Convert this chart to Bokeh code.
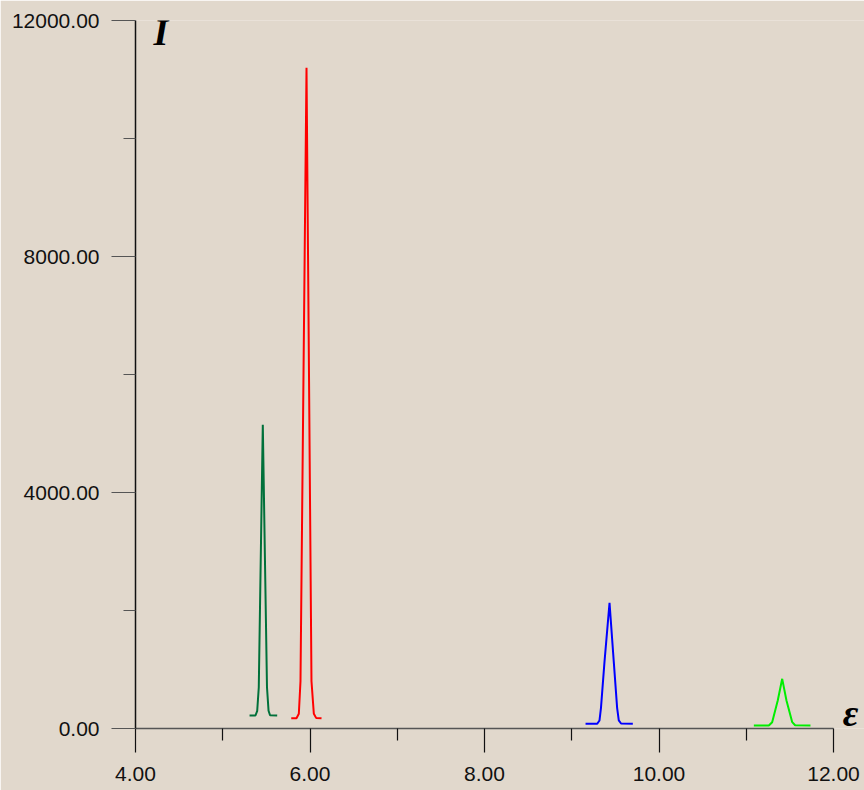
from bokeh.plotting import figure
from bokeh.models import FixedTicker, NumeralTickFormatter, Label, Range1d
from bokeh.embed import file_html
from bokeh.resources import INLINE

# ---- data ----
green_x = [5.307, 5.375, 5.395, 5.413, 5.459, 5.507, 5.525, 5.542, 5.624]
green_y = [220, 220, 300, 700, 5150, 700, 300, 225, 220]

red_x = [5.785, 5.845, 5.872, 5.891, 5.960, 6.017, 6.044, 6.070, 6.132]
red_y = [175, 175, 250, 800, 11200, 800, 250, 180, 175]

blue_x = [9.158, 9.292, 9.318, 9.335, 9.375, 9.433, 9.482, 9.520, 9.539, 9.565, 9.700]
blue_y = [80, 80, 136, 350, 1124, 2130, 1124, 350, 136, 85, 80]

lime_x = [11.087, 11.259, 11.297, 11.361, 11.412, 11.461, 11.527, 11.560, 11.736]
lime_y = [50, 50, 107, 475, 842, 475, 107, 55, 50]

x_ticks = [4, 6, 8, 10, 12]
x_minor = [5, 7, 9, 11]
y_ticks = [0, 4000, 8000, 12000]
y_minor = [2000, 6000, 10000]

BG = "#e1d8cc"

p = figure(frame_width=729, frame_height=708,
           x_range=Range1d(4, 12.3553), y_range=Range1d(0, 12000),
           output_backend="svg", toolbar_location=None,
           min_border_left=135, min_border_right=0,
           min_border_top=20, min_border_bottom=62)
p.background_fill_color = BG
p.border_fill_color = BG
p.outline_line_color = None
p.xgrid.visible = False
p.ygrid.visible = False

p.line(green_x, green_y, line_color="#00703a", line_width=2)
p.line(red_x, red_y, line_color="#ff0000", line_width=2)
p.line(blue_x, blue_y, line_color="#0000ff", line_width=2)
p.line(lime_x, lime_y, line_color="#00ee00", line_width=2)

for ax, ticks, minor in ((p.xaxis[0], x_ticks, x_minor), (p.yaxis[0], y_ticks, y_minor)):
    ax.ticker = FixedTicker(ticks=ticks, minor_ticks=minor)
    ax.formatter = NumeralTickFormatter(format="0.00")
    ax.major_tick_in = 0
    ax.minor_tick_in = 0
    ax.major_tick_out = 24
    ax.minor_tick_out = 12
    ax.major_label_text_font = "Liberation Sans"
    ax.major_label_text_font_size = "21px"
    ax.major_label_text_color = "#111111"

p.xaxis.bounds = (4, 12)
p.xaxis.axis_line_color = "#555555"
p.xaxis.axis_line_width = 1.5
p.xaxis.major_tick_line_color = "#111111"
p.xaxis.minor_tick_line_color = "#111111"
p.xaxis.major_tick_line_width = 1.2
p.xaxis.minor_tick_line_width = 1.2
p.xaxis.major_label_standoff = 14

p.yaxis.axis_line_color = "#111111"
p.yaxis.axis_line_width = 1.5
p.yaxis.major_tick_line_color = "#555555"
p.yaxis.minor_tick_line_color = "#555555"
p.yaxis.major_tick_line_width = 1.2
p.yaxis.minor_tick_line_width = 1.2
p.yaxis.major_label_standoff = 12

p.add_layout(Label(x=4.206, y=11800, text="I", text_font="Liberation Serif",
                   text_font_style="bold italic", text_font_size="38px",
                   text_color="#000000", text_align="left",
                   text_baseline="alphabetic"))
p.add_layout(Label(x=12.105, y=270, text="\u03b5", text_font="Liberation Serif",
                   text_font_style="bold italic", text_font_size="38px",
                   text_color="#000000", text_align="left",
                   text_baseline="alphabetic"))

open("out.html", "w").write(file_html(p, INLINE))
